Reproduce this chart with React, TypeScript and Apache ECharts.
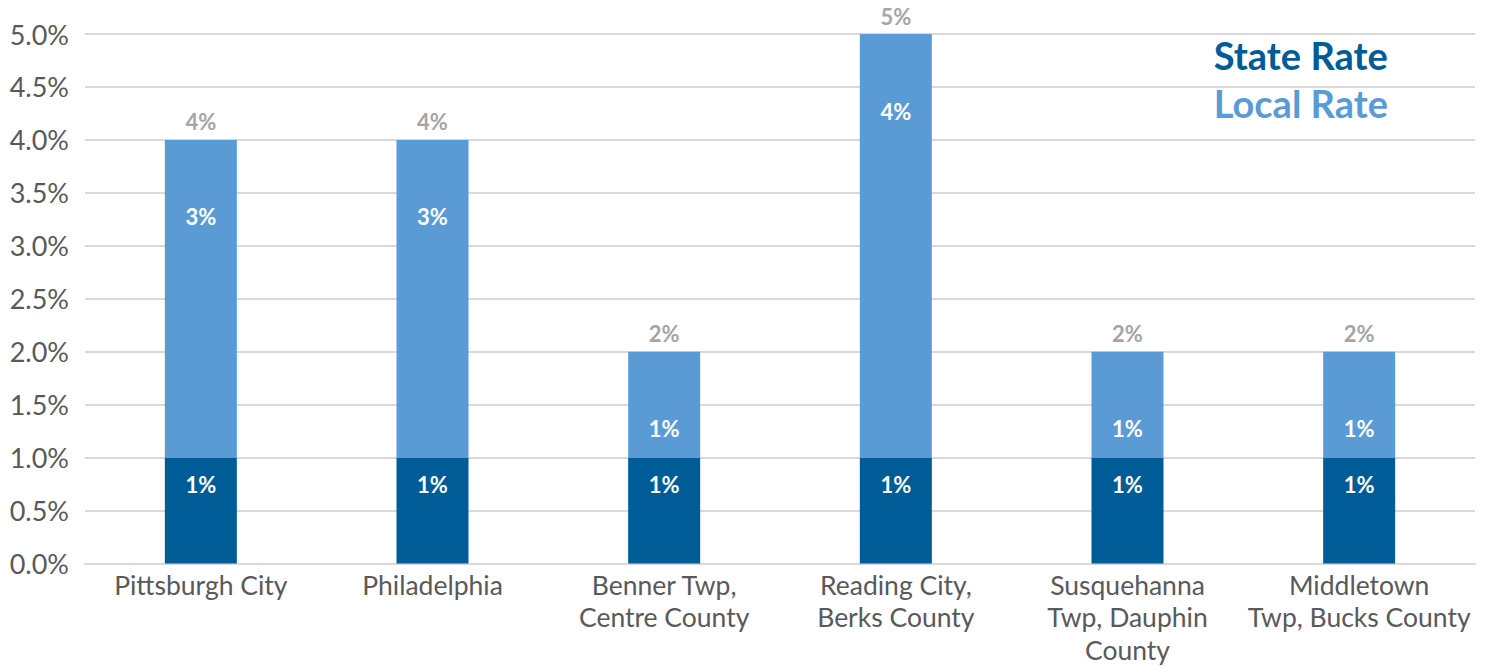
import React, { useEffect, useRef } from "react";
import * as echarts from "echarts";

const categories = [
  "Pittsburgh City",
  "Philadelphia",
  "Benner Twp,\nCentre County",
  "Reading City,\nBerks County",
  "Susquehanna\nTwp, Dauphin\nCounty",
  "Middletown\nTwp, Bucks County",
];
const stateRate = [1, 1, 1, 1, 1, 1];
const localRate = [3, 3, 1, 4, 1, 1];
const totalRate = [4, 4, 2, 5, 2, 2];
const yTicks = { min: 0, max: 5, interval: 0.5 };

const DARK = "#005C97";
const LIGHT = "#5B9BD5";
const FONT = "Lato";

export default function App() {
  const ref = useRef<HTMLDivElement>(null);
  useEffect(() => {
    if (!ref.current) return;
    const chart = echarts.init(ref.current, undefined, { renderer: "svg" });
    chart.setOption({
      animation: false,
      textStyle: { fontFamily: FONT },
      grid: { left: 85, width: 1390, top: 34, height: 533, containLabel: false },
      legend: {
        orient: "vertical",
        right: 98,
        top: 31,
        icon: "none",
        itemGap: 10,
        itemWidth: 0,
        itemHeight: 0,
        selectedMode: false,
        align: "left",
        textStyle: { fontSize: 38, fontWeight: "bold", fontFamily: FONT, padding: [0, 0, 0, -5] },
        data: [
          { name: "State Rate", textStyle: { color: DARK } },
          { name: "Local Rate", textStyle: { color: LIGHT } },
        ],
      },
      xAxis: {
        type: "category",
        data: categories,
        axisTick: { show: false },
        axisLine: { lineStyle: { color: "#D9D9D9", width: 2 } },
        axisLabel: {
          color: "#595959",
          fontSize: 26.5,
          fontFamily: FONT,
          lineHeight: 32.5,
          margin: 5,
          interval: 0,
        },
      },
      yAxis: {
        type: "value",
        min: yTicks.min,
        max: yTicks.max,
        interval: yTicks.interval,
        axisLine: { show: false },
        axisTick: { show: false },
        splitLine: { lineStyle: { color: "#D9D9D9", width: 2 } },
        axisLabel: {
          color: "#595959",
          fontSize: 27,
          fontFamily: FONT,
          margin: 16,
          formatter: (v: number) => v.toFixed(1) + "%",
        },
      },
      series: [
        {
          name: "State Rate",
          type: "bar",
          stack: "total",
          barWidth: 72,
          data: stateRate,
          itemStyle: { color: DARK },
          label: {
            show: true,
            position: ["50%", 27],
            align: "center",
            verticalAlign: "middle",
            color: "#FFFFFF",
            fontWeight: "bold",
            fontSize: 22,
            fontFamily: FONT,
            formatter: (p: any) => p.value + "%",
          },
        },
        {
          name: "Local Rate",
          type: "bar",
          stack: "total",
          barWidth: 72,
          data: localRate,
          itemStyle: { color: LIGHT },
          label: {
            show: true,
            position: ["50%", 77],
            align: "center",
            verticalAlign: "middle",
            color: "#FFFFFF",
            fontWeight: "bold",
            fontSize: 22,
            fontFamily: FONT,
            formatter: (p: any) => p.value + "%",
          },
        },
        {
          name: "Total",
          type: "bar",
          stack: "total",
          barWidth: 72,
          data: totalRate.map(() => 0),
          itemStyle: { color: "transparent" },
          label: {
            show: true,
            position: "top",
            distance: 7,
            color: "#A5A5A5",
            fontWeight: "bold",
            fontSize: 22,
            fontFamily: FONT,
            formatter: (p: any) => totalRate[p.dataIndex] + "%",
          },
        },
      ],
    });
    return () => chart.dispose();
  }, []);
  return (
    <div
      ref={ref}
      style={{ position: "fixed", left: 0, top: 0, width: 1491, height: 666, background: "#fff" }}
    />
  );
}
